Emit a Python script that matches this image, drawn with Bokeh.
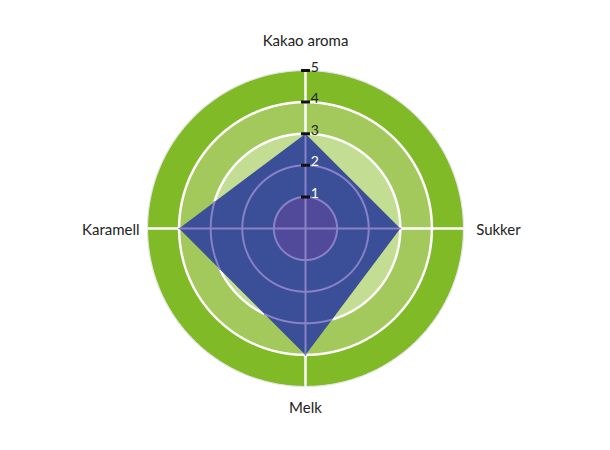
import numpy as np
from bokeh.plotting import figure
from bokeh.models import Range1d
from bokeh.embed import file_html
from bokeh.resources import INLINE
from bokeh.core.properties import value

# ---- data ----
categories = ["Kakao aroma", "Sukker", "Melk", "Karamell"]
scores = [3, 3, 4, 4]
levels = [1, 2, 3, 4, 5]
level_labels = ["1", "2", "3", "4", "5"]
# ring fill colours from inner (0-1) to outer (4-5)
ring_colors = ["#514a9b", "#b5d47e", "#c3dd93", "#a3c95c", "#80bb27"]
poly_color = "#3a4f97"
inner_line_color = "#8a82c8"

# ---- geometry ----
W, H = 594, 434
unit = 31.6
cx_px, cy_px = 305, 228
x0 = -cx_px / unit
x1 = (W - cx_px) / unit
y1 = cy_px / unit
y0 = -(H - cy_px) / unit

n = len(categories)
angles = np.pi / 2 - np.arange(n) * 2 * np.pi / n
sc = np.array(scores, dtype=float)
vx = sc * np.cos(angles)
vy = sc * np.sin(angles)
rmax = max(levels)


def inside(xs, ys, px, py):
    res = np.zeros(len(xs), dtype=bool)
    j = len(px) - 1
    for i in range(len(px)):
        denom = (py[j] - py[i])
        denom = denom if abs(denom) > 1e-12 else 1e-12
        cond = ((py[i] > ys) != (py[j] > ys)) & (
            xs < (px[j] - px[i]) * (ys - py[i]) / denom + px[i])
        res ^= cond
        j = i
    return res


p = figure(width=W, height=H, output_backend="svg", toolbar_location=None,
           x_range=Range1d(x0, x1), y_range=Range1d(y0, y1), min_border=0)
p.axis.visible = False
p.grid.visible = False
p.outline_line_color = None
p.background_fill_color = "white"

# rings
for r, col in zip(levels[::-1], ring_colors[::-1]):
    p.circle(x=0, y=0, radius=r, fill_color=col, line_color=None)

# white grid circles and axes
t = np.linspace(0, 2 * np.pi, 1441)
for r in levels[:-1]:
    p.line(r * np.cos(t), r * np.sin(t), line_color="white", line_width=2.5)
p.line(rmax * np.cos(t), rmax * np.sin(t), line_color="#e4e4e4", line_width=1.2)
for a in angles:
    p.line([0, rmax * np.cos(a)], [0, rmax * np.sin(a)], line_color="white", line_width=2.5)

# data polygon
p.patch(list(vx), list(vy), fill_color=poly_color, line_color=None)

# inner level region
p.circle(x=0, y=0, radius=levels[0], fill_color=ring_colors[0], line_color=None)

# grid lines seen through the polygon
for r in levels:
    xs = r * np.cos(t)
    ys = r * np.sin(t)
    m = inside(xs * 0.999, ys * 0.999, vx, vy)
    if not m.any():
        continue
    mm = m.copy()
    mm[1:] |= m[:-1]
    mm[:-1] |= m[1:]
    xi = np.where(mm, xs, np.nan)
    yi = np.where(mm, ys, np.nan)
    p.line(xi, yi, line_color=inner_line_color, line_width=2)
for a, s in zip(angles, sc):
    p.line([0, s * np.cos(a)], [0, s * np.sin(a)], line_color=inner_line_color, line_width=2)

# ticks on the first axis
a0 = angles[0]
tx = [lv * np.cos(a0) for lv in levels]
ty = [lv * np.sin(a0) for lv in levels]
p.rect(x=tx, y=ty, width=9, height=3, width_units="screen", height_units="screen",
       fill_color="#111111", line_color=None)
lab_colors = ["white" if lv < sc[0] else "#222222" for lv in levels]
p.text(x=[v + 0.17 for v in tx], y=ty, text=level_labels, text_color=lab_colors,
       text_font=value("Lato"), text_font_size="14px", text_align="left",
       text_baseline="bottom", y_offset=1)

# category labels
off = {0: (5.95, "center", "middle"), 1: (5.4, "left", "middle"),
       2: (5.65, "center", "middle"), 3: (5.25, "right", "middle")}
for i, (cat, a) in enumerate(zip(categories, angles)):
    rr, al, bl = off[i]
    p.text(x=[rr * np.cos(a)], y=[rr * np.sin(a)], text=[cat], text_color="#222222",
           text_font=value("Lato"), text_font_size="15px", text_align=al,
           text_baseline=bl)

open("out.html", "w").write(file_html(p, INLINE))
